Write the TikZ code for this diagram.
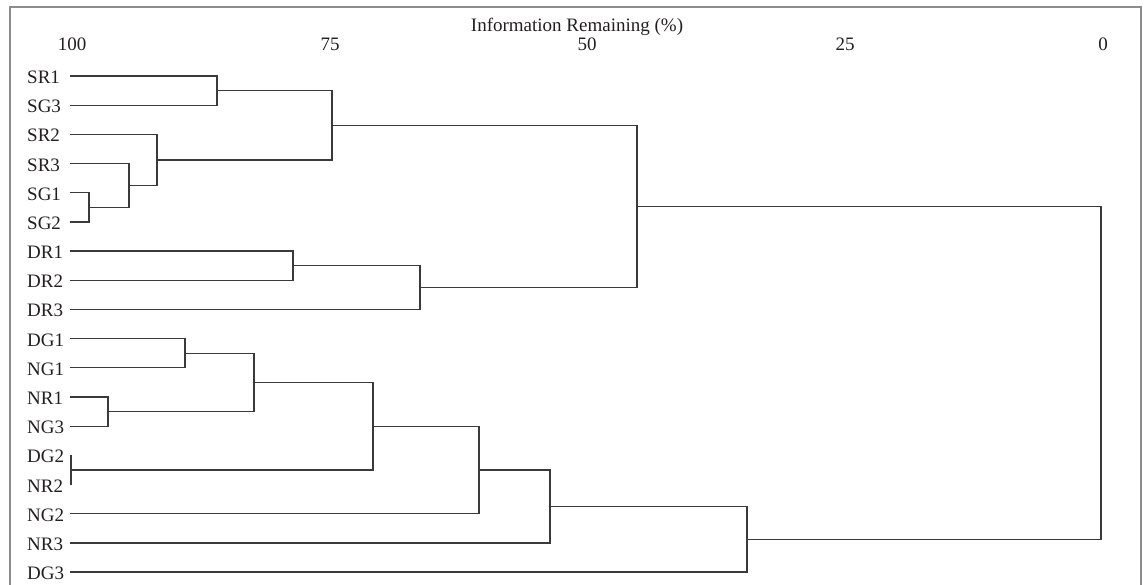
\documentclass[tikz,border=0pt]{standalone}
\usepackage{fontspec}
\setmainfont{Liberation Serif}
\definecolor{ln}{HTML}{3A3A3A}
\definecolor{frm}{HTML}{8C8C8C}
\definecolor{txt}{HTML}{231F20}
\newcommand\mrg[3]{\draw[lnk] (#2) -- (#2 -| #1) -- (#3 -| #1) -- (#3);}
\begin{document}
\begin{tikzpicture}[x=1pt,y=-1pt,
  lnk/.style={draw=ln, line width=1.3pt},
  lbl/.style={anchor=base west, inner sep=0pt, text=txt, font=\fontsize{19}{22}\selectfont},
  axl/.style={anchor=base, inner sep=0pt, text=txt, font=\fontsize{19}{22}\selectfont}]
\useasboundingbox (0,0) rectangle (1145,585);
\draw[frm, line width=1.6pt] (10,600) -- (10,7) -- (1141,7) -- (1141,600);
% axis
\node[axl] (title) at (577,32) {Information Remaining (\%)};
\node[axl] (t100) at (72,51) {100};
\node[axl] (t75) at (330,51) {75};
\node[axl] (t50) at (587,51) {50};
\node[axl] (t25) at (845,51) {25};
\node[axl] (t0) at (1103,51) {0};
% leaves
\foreach \n [count=\i from 0] in {SR1,SG3,SR2,SR3,SG1,SG2,DR1,DR2,DR3,DG1,NG1,NR1,NG3,DG2,NR2,NG2,NR3,DG3}{
  \node[lbl] (\n) at (27,{76+29.18*\i+7.5}) {\n};
  \coordinate (l\n) at (70,{76+29.18*\i});
}
% merge points
\coordinate (a) at (217,90.59);
\coordinate (b) at (89,207.31);
\coordinate (c) at (129,185.43);
\coordinate (d) at (157,159.9);
\coordinate (e) at (332,125.24);
\coordinate (f) at (293,265.67);
\coordinate (g) at (420,287.56);
\coordinate (h) at (637,206.4);
\coordinate (i) at (185,353.21);
\coordinate (j) at (108,411.57);
\coordinate (k) at (254,382.39);
\coordinate (l) at (71,469.93);
\coordinate (m) at (373,426.16);
\coordinate (n) at (479,469.93);
\coordinate (o) at (550,506.41);
\coordinate (p) at (747,539.24);
\coordinate (r) at (1101,372.8);
\mrg{a}{lSR1}{lSG3}
\mrg{b}{lSG1}{lSG2}
\mrg{c}{lSR3}{b}
\mrg{d}{lSR2}{c}
\mrg{e}{a}{d}
\mrg{f}{lDR1}{lDR2}
\mrg{g}{f}{lDR3}
\mrg{h}{e}{g}
\mrg{i}{lDG1}{lNG1}
\mrg{j}{lNR1}{lNG3}
\mrg{k}{i}{j}
\mrg{l}{lDG2}{lNR2}
\mrg{m}{k}{l}
\mrg{n}{m}{lNG2}
\mrg{o}{n}{lNR3}
\mrg{p}{o}{lDG3}
\mrg{r}{h}{p}
\end{tikzpicture}
\end{document}
